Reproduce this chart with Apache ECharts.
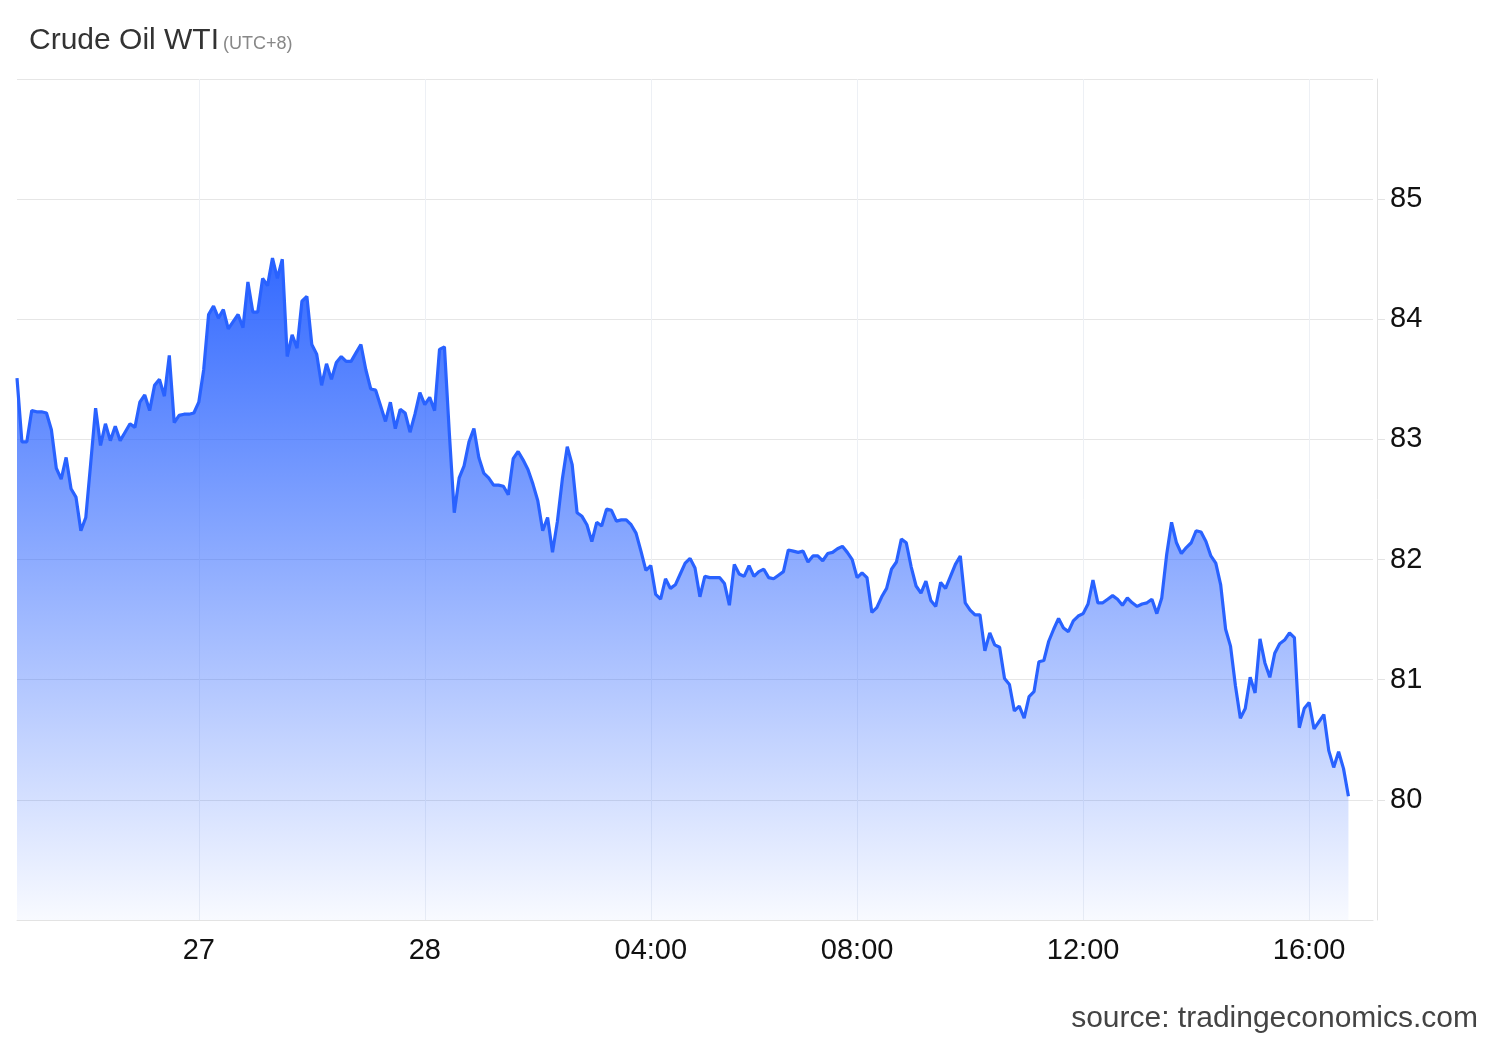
<!DOCTYPE html>
<html>
<head>
<meta charset="utf-8">
<script src="https://cdn.jsdelivr.net/npm/echarts/dist/echarts.min.js"></script>
<style>
html,body{margin:0;padding:0;background:#fff;}
#chart{width:1500px;height:1040px;}
</style>
</head>
<body>
<div id="chart"></div>
<script>
// Crude Oil WTI intraday prices, one value per slot
const prices = [
83.51,82.98,82.98,83.24,83.23,83.23,83.22,83.08,82.76,82.67,
82.85,82.59,82.52,82.24,82.35,82.80,83.26,82.95,83.13,82.99,
83.11,82.99,83.06,83.13,83.10,83.31,83.37,83.24,83.45,83.50,
83.36,83.70,83.14,83.20,83.21,83.21,83.22,83.31,83.58,84.04,
84.11,84.01,84.08,83.92,83.98,84.04,83.93,84.31,84.06,84.06,
84.34,84.28,84.51,84.34,84.50,83.69,83.87,83.76,84.15,84.19,
83.79,83.71,83.45,83.63,83.50,83.64,83.69,83.65,83.65,83.72,
83.79,83.58,83.42,83.41,83.28,83.15,83.31,83.09,83.25,83.22,
83.06,83.21,83.39,83.29,83.35,83.24,83.75,83.77,83.05,82.39,
82.68,82.78,82.98,83.09,82.85,82.72,82.68,82.62,82.62,82.61,
82.54,82.84,82.90,82.83,82.75,82.63,82.49,82.24,82.35,82.06,
82.32,82.67,82.94,82.79,82.39,82.36,82.29,82.15,82.31,82.28,
82.42,82.41,82.32,82.33,82.33,82.29,82.22,82.07,81.91,81.95,
81.71,81.67,81.84,81.76,81.79,81.88,81.97,82.01,81.93,81.69,
81.86,81.85,81.85,81.85,81.80,81.62,81.96,81.88,81.86,81.95,
81.86,81.90,81.92,81.85,81.84,81.87,81.90,82.08,82.07,82.06,
82.07,81.98,82.03,82.03,81.99,82.05,82.06,82.09,82.11,82.06,
82.00,81.85,81.89,81.85,81.56,81.60,81.69,81.76,81.92,81.98,
82.17,82.14,81.94,81.78,81.72,81.82,81.66,81.61,81.81,81.76,
81.86,81.96,82.03,81.64,81.58,81.54,81.54,81.24,81.39,81.29,
81.27,81.01,80.96,80.74,80.78,80.68,80.86,80.90,81.15,81.16,
81.32,81.42,81.51,81.43,81.40,81.49,81.53,81.55,81.63,81.83,
81.64,81.64,81.67,81.70,81.67,81.62,81.68,81.64,81.61,81.63,
81.64,81.67,81.55,81.68,82.04,82.31,82.14,82.05,82.10,82.14,
82.24,82.23,82.15,82.03,81.97,81.79,81.42,81.28,80.95,80.68,
80.76,81.02,80.89,81.34,81.14,81.02,81.22,81.30,81.33,81.39,
81.35,80.60,80.76,80.81,80.59,80.65,80.71,80.41,80.27,80.40,
80.26,80.03
];
// x-axis tick labels and the slot where each one sits
const tickLabels = ['27', '28', '04:00', '08:00', '12:00', '16:00'];
const tickSlots = [37, 83, 129, 171, 217, 263];
const slotCount = 277;
// y-axis
const yMin = 79, yMax = 86, yStep = 1;

const categories = [];
for (let i = 0; i < slotCount; i++) categories.push('s' + i);

const FONT = '"Liberation Sans", Arial, Helvetica, sans-serif';
const chart = echarts.init(document.getElementById('chart'), null, {renderer: 'canvas'});
chart.setOption({
  animation: false,
  backgroundColor: '#ffffff',
  grid: {left: 17, right: 127, top: 79, bottom: 120, containLabel: false},
  xAxis: {
    type: 'category',
    data: categories,
    boundaryGap: false,
    axisLine: {show: true, lineStyle: {color: '#e3e3e3', width: 1}},
    axisTick: {show: false},
    axisLabel: {
      interval: function (idx) { return tickSlots.indexOf(idx) >= 0; },
      formatter: function (val, idx) {
        const k = tickSlots.indexOf(idx);
        return k >= 0 ? tickLabels[k] : '';
      },
      color: '#111111', fontSize: 29, fontFamily: FONT, margin: 16
    },
    splitLine: {
      show: true,
      interval: function (idx) { return tickSlots.indexOf(idx) >= 0; },
      lineStyle: {color: '#edf0f5', width: 1}
    }
  },
  yAxis: {
    type: 'value',
    position: 'right',
    offset: 4,
    min: yMin, max: yMax, interval: yStep,
    scale: true,
    axisLine: {show: true, lineStyle: {color: '#e3e3e3', width: 1}},
    axisTick: {show: true, length: 8, lineStyle: {color: '#e3e3e3', width: 1}},
    axisLabel: {
      showMinLabel: false, showMaxLabel: false,
      color: '#111111', fontSize: 29, fontFamily: FONT, margin: 13,
      padding: [5, 0, 0, 0]
    },
    splitLine: {show: true, lineStyle: {color: '#e6e6e6', width: 1}}
  },
  series: [{
    type: 'line',
    data: prices,
    symbol: 'none',
    showSymbol: false,
    smooth: false,
    lineStyle: {color: '#2962ff', width: 3.2},
    itemStyle: {color: '#2962ff'},
    areaStyle: {
      opacity: 1,
      color: new echarts.graphic.LinearGradient(0, 0, 0, 1, [
        {offset: 0, color: 'rgba(41,98,255,0.95)'},
        {offset: 1, color: 'rgba(41,98,255,0.03)'}
      ])
    }
  }],
  graphic: [
    {type: 'text', left: 29, top: 26, style: {text: 'Crude Oil WTI', font: '30px ' + FONT, fill: '#333333'}},
    {type: 'text', left: 223, top: 35, style: {text: '(UTC+8)', font: '18px ' + FONT, fill: '#888888'}},
    {type: 'text', right: 22, top: 1004, style: {text: 'source: tradingeconomics.com', font: '30px ' + FONT, fill: '#444444'}}
  ]
});
</script>
</body>
</html>
